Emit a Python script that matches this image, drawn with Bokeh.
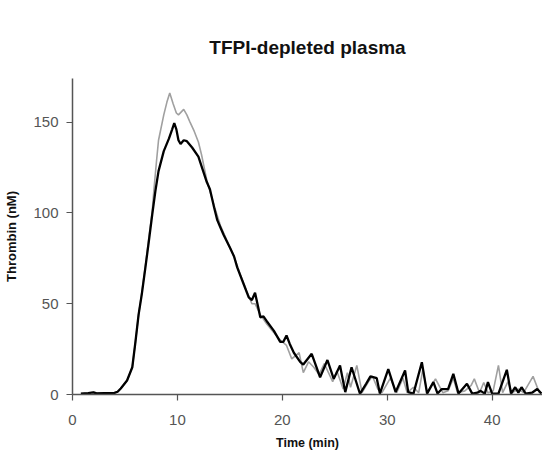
from bokeh.plotting import figure
from bokeh.models import Range1d, FixedTicker
from bokeh.embed import file_html
from bokeh.resources import INLINE

# Black trace (time in min, thrombin in nM)
black_t = [0.8, 1.5, 2.0, 2.3, 3.0, 3.5, 4.0, 4.3, 4.6, 5.2, 5.7, 6.0, 6.3, 6.6, 6.95, 7.27, 7.6, 7.9,
           8.2, 8.7, 9.2, 9.5, 9.7, 9.9, 10.1, 10.3, 10.6, 10.9, 11.4, 12.0, 12.4, 12.8, 13.1, 13.5,
           13.8, 14.1, 14.4, 15.0, 15.4, 15.7, 16.3, 16.8, 17.1, 17.4, 17.7, 17.9, 18.2, 18.5, 19.2,
           19.8, 20.1, 20.4, 20.7, 21.1, 21.7, 22.0, 22.8, 23.6, 24.3, 24.9, 25.5, 26.0, 26.6, 27.4,
           28.0, 28.4, 29.0, 29.3, 30.1, 30.8, 31.7, 32.0, 32.5, 33.3, 33.8, 34.4, 34.8, 35.2, 35.8,
           36.3, 36.8, 37.6, 38.1, 38.6, 38.9, 39.3, 39.6, 40.0, 40.6, 41.4, 41.8, 42.2, 42.5, 42.8,
           43.2, 43.8, 44.3, 44.7]
black_v = [0.5, 0.8, 1.2, 0.6, 0.8, 0.7, 0.9, 1.5, 3.3, 7.7, 15, 29, 44, 55, 70, 84, 99, 112,
           123, 134, 141, 146, 149.5, 146, 140, 138, 140, 139.5, 136, 131, 124, 117, 113, 103,
           96, 92, 88, 81, 76, 70, 61, 53.5, 52, 56, 48, 42.5, 43, 40.5, 35,
           29, 29, 32.5, 28, 23, 18, 16.5, 22.4, 9.5, 19, 8.6, 16, 1.3, 15, 0.4,
           6, 10, 9, 0.5, 14, 1.3, 13.2, 1.3, 0.5, 17.8, 0.5, 6.8, 0.5, 3, 3,
           11.4, 0.5, 5.9, 0.5, 1, 2, 0.5, 6.8, 0.5, 0.5, 13.6, 0.5, 4, 1, 4,
           0.5, 1, 3, 0.5]

# Grey trace
grey_t = [0.8, 1.5, 2.0, 2.3, 3.0, 3.5, 4.0, 4.3, 4.6, 5.2, 5.7, 6.0, 6.3, 6.6, 6.95, 7.27, 7.6, 7.75,
          8.0, 8.2, 8.7, 9.0, 9.27, 9.6, 9.9, 10.1, 10.6, 10.9, 11.2, 11.6, 12.0, 12.3, 12.8, 13.5,
          14.1, 14.7, 15.4, 16.0, 16.6, 17.1, 17.4, 17.9, 18.5, 19.2, 19.8, 20.4, 20.9, 21.6, 22.0,
          22.5, 23.0, 23.5, 24.0, 24.8, 25.2, 25.8, 26.2, 26.5, 27.1, 27.6, 28.2, 28.6, 29.1, 29.5,
          30.3, 30.9, 31.5, 31.9, 32.5, 33.0, 33.4, 33.8, 34.6, 35.3, 35.8, 36.3, 36.7, 37.4, 38.0,
          38.3, 38.8, 39.2, 39.6, 40.1, 40.6, 41.0, 41.5, 41.9, 42.5, 43.0, 43.9, 44.5, 45.0]
grey_v = [0.5, 0.8, 1.2, 0.6, 0.8, 0.7, 0.9, 1.5, 3.3, 7.7, 15, 29, 44, 56, 71, 86, 101, 112,
          128, 140, 154, 161, 166, 160, 155, 154, 157, 154, 150, 145, 139, 132, 118, 104,
          93, 85, 76, 66, 57, 50, 50, 44, 39, 34, 30, 27, 19.6, 23, 12,
          18, 15, 11, 17, 7, 13, 3, 12, 4, 16, 1, 7, 10, 3, 1,
          9, 1, 9, 1, 4, 1, 14, 1, 8.6, 1, 2, 9, 1, 2, 5,
          8.6, 1, 6.6, 1, 2, 16, 1, 7, 1, 3, 1, 10, 1, 1]

x_ticks = [0, 10, 20, 30, 40]
y_ticks = [0, 50, 100, 150]

p = figure(width=542, height=457, output_backend="svg", toolbar_location=None,
           x_range=Range1d(0, 44.8), y_range=Range1d(0, 174),
           min_border_left=72, min_border_right=0, min_border_top=78, min_border_bottom=63,
           title="TFPI-depleted plasma")
p.title.align = "center"
p.title.text_font = "Liberation Sans"
p.title.text_font_size = "19px"
p.title.text_font_style = "bold"
p.title.text_color = "#111111"
p.title.standoff = 42

p.line(grey_t, grey_v, line_color="#a0a0a0", line_width=1.6)
p.line(black_t, black_v, line_color="#000000", line_width=2.3)

p.xgrid.visible = False
p.ygrid.visible = False
p.outline_line_color = None

for ax in (p.xaxis[0], p.yaxis[0]):
    ax.axis_line_color = "#555555"
    ax.axis_line_width = 1.5
    ax.major_tick_line_color = "#555555"
    ax.major_tick_line_width = 1.2
    ax.major_tick_out = 6
    ax.major_tick_in = 0
    ax.minor_tick_line_color = None
    ax.major_label_text_font = "Liberation Sans"
    ax.major_label_text_font_size = "15px"
    ax.major_label_text_color = "#555555"
    ax.axis_label_text_font = "Liberation Sans"
    ax.axis_label_text_font_style = "bold"
    ax.axis_label_text_color = "#111111"

p.xaxis.axis_label_text_font_size = "12.5px"
p.yaxis.axis_label_text_font_size = "13px"
p.xaxis.ticker = FixedTicker(ticks=x_ticks)
p.yaxis.ticker = FixedTicker(ticks=y_ticks)
p.xaxis.axis_label = "Time (min)"
p.yaxis.axis_label = "Thrombin (nM)"
p.xaxis.major_label_standoff = 14
p.yaxis.major_label_standoff = 8
p.xaxis.axis_label_standoff = 8
p.yaxis.axis_label_standoff = 11

open("out.html", "w").write(file_html(p, INLINE))
